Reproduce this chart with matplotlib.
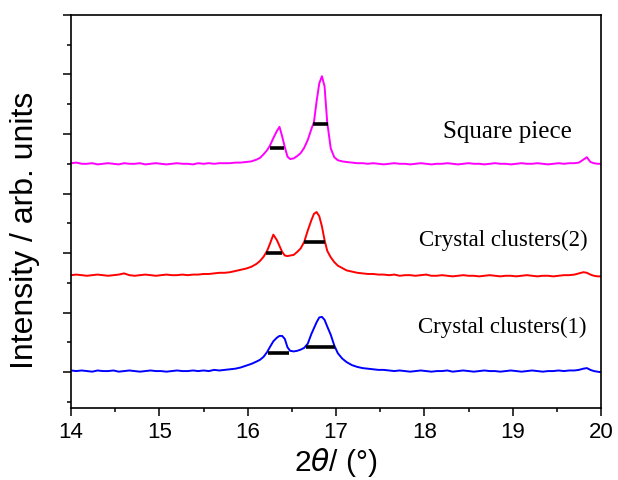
import matplotlib
matplotlib.use("agg")
import matplotlib.pyplot as plt
from matplotlib.ticker import MultipleLocator, NullFormatter

# shared 2-theta grid (deg)
two_theta = [14.00, 14.06, 14.12, 14.18, 14.24, 14.30, 14.36, 14.42, 14.48, 14.54,
             14.60, 14.66, 14.72, 14.78, 14.84, 14.90, 14.96, 15.02, 15.08, 15.14,
             15.20, 15.26, 15.32, 15.38, 15.44, 15.50, 15.56, 15.62, 15.68, 15.74,
             15.80, 15.86, 15.92, 15.98, 16.04, 16.10,
             16.14, 16.18, 16.22, 16.25, 16.29, 16.33, 16.36, 16.39, 16.42, 16.45,
             16.48, 16.52, 16.56, 16.60, 16.64, 16.68, 16.72, 16.75, 16.78, 16.81,
             16.84, 16.87, 16.90, 16.94, 16.98, 17.02, 17.07, 17.12, 17.18, 17.24, 17.30,
             17.36, 17.42, 17.48, 17.54, 17.60, 17.66, 17.72, 17.78, 17.84, 17.90,
             17.96, 18.02, 18.08, 18.14, 18.20, 18.26, 18.32, 18.38, 18.44, 18.50,
             18.56, 18.62, 18.68, 18.74, 18.80, 18.86, 18.92, 18.98, 19.04, 19.10,
             19.16, 19.22, 19.28, 19.34, 19.40, 19.46, 19.52, 19.58, 19.64, 19.70,
             19.75, 19.80, 19.84, 19.88, 19.92, 19.96, 20.00]

square_piece = [3.51, 3.52, 3.50, 3.50, 3.51, 3.49, 3.50, 3.51, 3.50, 3.49,
                3.51, 3.50, 3.50, 3.51, 3.49, 3.50, 3.51, 3.50, 3.49, 3.50,
                3.51, 3.50, 3.50, 3.49, 3.51, 3.50, 3.51, 3.50, 3.51, 3.51,
                3.51, 3.52, 3.52, 3.53, 3.54, 3.57,
                3.60, 3.66, 3.73, 3.80, 3.93, 4.05, 4.12, 3.96, 3.78, 3.62,
                3.58, 3.59, 3.63, 3.68, 3.77, 3.90, 4.08, 4.20, 4.55, 4.85,
                4.97, 4.80, 4.20, 3.76, 3.61, 3.56, 3.54, 3.53, 3.52, 3.51, 3.51,
                3.50, 3.51, 3.50, 3.49, 3.50, 3.51, 3.50, 3.50, 3.49, 3.50,
                3.51, 3.50, 3.49, 3.50, 3.50, 3.51, 3.50, 3.49, 3.50, 3.51,
                3.50, 3.50, 3.49, 3.50, 3.51, 3.50, 3.50, 3.49, 3.50, 3.51,
                3.50, 3.50, 3.51, 3.50, 3.49, 3.50, 3.51, 3.50, 3.51, 3.51,
                3.52, 3.57, 3.61, 3.53, 3.51, 3.50, 3.50]

clusters_2 = [1.63, 1.64, 1.63, 1.62, 1.63, 1.64, 1.63, 1.62, 1.63, 1.64,
              1.66, 1.63, 1.62, 1.63, 1.64, 1.63, 1.62, 1.63, 1.64, 1.63,
              1.63, 1.64, 1.63, 1.64, 1.64, 1.65, 1.65, 1.66, 1.67, 1.67,
              1.68, 1.70, 1.72, 1.74, 1.77, 1.82,
              1.87, 1.94, 2.04, 2.15, 2.31, 2.22, 2.12, 2.02, 1.96, 1.95,
              1.96, 1.97, 2.02, 2.08, 2.19, 2.38, 2.55, 2.66, 2.69, 2.62,
              2.45, 2.22, 2.04, 1.93, 1.85, 1.79, 1.75, 1.71, 1.69, 1.67, 1.66,
              1.65, 1.65, 1.64, 1.64, 1.63, 1.64, 1.62, 1.63, 1.63, 1.62,
              1.63, 1.64, 1.62, 1.62, 1.63, 1.62, 1.61, 1.62, 1.63, 1.62,
              1.62, 1.61, 1.62, 1.63, 1.62, 1.61, 1.62, 1.62, 1.61, 1.62,
              1.63, 1.62, 1.61, 1.62, 1.62, 1.61, 1.62, 1.63, 1.63, 1.64,
              1.66, 1.68, 1.67, 1.64, 1.62, 1.61, 1.61]

clusters_1 = [0.03, 0.02, 0.03, 0.02, 0.01, 0.03, 0.02, 0.02, 0.03, 0.01,
              0.02, 0.03, 0.02, 0.01, 0.02, 0.03, 0.02, 0.02, 0.01, 0.02,
              0.03, 0.02, 0.02, 0.03, 0.02, 0.03, 0.02, 0.04, 0.03, 0.04,
              0.05, 0.06, 0.08, 0.11, 0.14, 0.18,
              0.21, 0.26, 0.34, 0.42, 0.52, 0.58, 0.61, 0.61, 0.56, 0.42,
              0.36, 0.35, 0.36, 0.38, 0.41, 0.48, 0.64, 0.74, 0.84, 0.92,
              0.93, 0.88, 0.77, 0.63, 0.45, 0.32, 0.23, 0.17, 0.12, 0.09, 0.07,
              0.06, 0.05, 0.04, 0.04, 0.03, 0.02, 0.03, 0.02, 0.01, 0.02,
              0.03, 0.02, 0.01, 0.02, 0.02, 0.03, 0.01, 0.02, 0.03, 0.02,
              0.01, 0.02, 0.03, 0.02, 0.02, 0.01, 0.02, 0.03, 0.02, 0.01,
              0.02, 0.03, 0.02, 0.01, 0.02, 0.02, 0.03, 0.02, 0.03, 0.03,
              0.04, 0.06, 0.07, 0.04, 0.02, 0.01, 0.00]

# FWHM bars: (height, left, right)
fwhm_y = [3.77, 4.16, 2.00, 2.19, 0.32, 0.42]
fwhm_x0 = [16.25, 16.74, 16.21, 16.64, 16.23, 16.66]
fwhm_x1 = [16.41, 16.91, 16.39, 16.87, 16.47, 16.99]

labels = ["Square piece", "Crystal clusters(2)", "Crystal clusters(1)"]
label_x = [18.94, 18.89, 18.88]
label_y = [4.04, 2.22, 0.76]
label_size = [18, 16.5, 16.5]

plt.rcParams['font.family'] = ['Liberation Sans', 'DejaVu Sans']

fig = plt.figure(figsize=(6.18, 4.8), dpi=100)
ax = fig.add_axes([0.115, 0.15, 0.8575, 0.819])

ax.plot(two_theta, square_piece, color='#ff00ff', lw=1.4)
ax.plot(two_theta, clusters_2, color='#ff0000', lw=1.4)
ax.plot(two_theta, clusters_1, color='#0000ff', lw=1.4)
ax.hlines(fwhm_y, fwhm_x0, fwhm_x1, colors='black', lw=2.6, zorder=3)

for t, x, y, s in zip(labels, label_x, label_y, label_size):
    ax.text(x, y, t, ha='center', va='center', fontsize=s,
            family=['Liberation Serif', 'DejaVu Serif'])

ax.set_xlim(14, 20)
ax.set_ylim(-0.6, 6.0)
ax.xaxis.set_major_locator(MultipleLocator(1))
ax.xaxis.set_minor_locator(MultipleLocator(0.5))
ax.yaxis.set_major_locator(MultipleLocator(1))
ax.yaxis.set_minor_locator(MultipleLocator(0.5))
ax.yaxis.set_major_formatter(NullFormatter())
ax.tick_params(axis='both', which='major', direction='out', length=5.5, width=1.1,
               labelsize=16, pad=4.5)
ax.tick_params(axis='both', which='minor', direction='out', length=3, width=1.1)
for sp in ax.spines.values():
    sp.set_linewidth(1.2)

ax.set_xlabel(r"2$\mathit{\theta}$/ (°)", fontsize=21.5, labelpad=2)
ax.set_ylabel("Intensity / arb. units", fontsize=23)
ax.yaxis.set_label_coords(-0.058, 0.453)

fig.savefig("out.png", dpi=100)
